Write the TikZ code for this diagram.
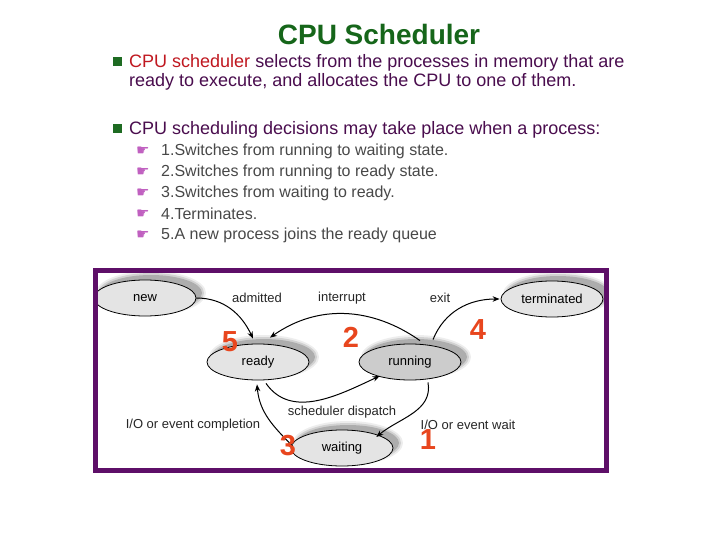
\documentclass[tikz,border=0pt]{standalone}
\usepackage{fontspec}
\setmainfont{Liberation Sans}
\newfontfamily\symfont{DejaVu Sans}
\usetikzlibrary{arrows.meta,shapes.geometric}
\definecolor{titlegreen}{HTML}{16661A}
\definecolor{bulgreen}{HTML}{1E6B22}
\definecolor{txtpurple}{HTML}{4A0D4E}
\definecolor{txtred}{HTML}{C01820}
\definecolor{subgray}{HTML}{484848}
\definecolor{handpink}{HTML}{C060C0}
\definecolor{framepurple}{HTML}{5E0F68}
\definecolor{numred}{HTML}{E8461E}
\definecolor{statefill}{HTML}{E4E4E4}
\definecolor{runfill}{HTML}{CCCCCC}
\tikzset{
  state/.style={ellipse, draw=black, line width=0.8pt, fill=statefill,
     minimum width=102pt, minimum height=36pt, inner sep=0pt,
     font=\fontsize{13}{15}\selectfont},
  shadowell/.style={ellipse, fill=black!55, minimum width=102pt, minimum height=36pt, inner sep=0pt},
  lbl/.style={font=\fontsize{13}{15}\selectfont, text=black!85},
  num/.style={font=\fontsize{29}{32}\selectfont\bfseries, text=numred},
  arr/.style={line width=1pt, -{Stealth[length=7pt,width=5.5pt]}},
  sub/.style={anchor=base west, font=\fontsize{16}{18}\selectfont, text=subgray, inner sep=0pt},
  hand/.style={anchor=base west, font=\symfont\fontsize{15}{16}\selectfont, text=handpink, inner sep=0pt},
  main/.style={anchor=base west, font=\fontsize{18}{20}\selectfont, text=txtpurple, inner sep=0pt},
  sq/.style={fill=bulgreen, minimum size=9pt, inner sep=0pt}
}
\begin{document}
\begin{tikzpicture}[x=1pt,y=-1pt]
\useasboundingbox[fill=white] (0,0) rectangle (720,540);
% title
\node[anchor=base, font=\fontsize{28}{32}\selectfont\bfseries, text=titlegreen] (title) at (379,45) {CPU Scheduler};
% bullet 1
\node[sq] (b1) at (117,62) {};
\node[main] (l1) at (129,68) {\textcolor{txtred}{CPU scheduler} selects from the processes in memory that are};
\node[main] (l2) at (129,87) {ready to execute, and allocates the CPU to one of them.};
% bullet 2
\node[sq] (b2) at (117,129) {};
\node[main] (l3) at (129,135) {CPU scheduling decisions may take place when a process:};
% sub bullets
\foreach \i/\t in {0/{1.Switches from running to waiting state.},1/{2.Switches from running to ready state.},2/{3.Switches from waiting to ready.},3/{4.Terminates.},4/{5.A new process joins the ready queue}}{
  \node[hand] (h\i) at (136,155.5+21*\i) {☛};
  \node[sub] (s\i) at (161,156+21*\i) {\t};
}
% diagram
\begin{scope}
\clip (98,273) rectangle (604,468);
\foreach \px/\py in {145/298,258/362,410/362,552/299,342/448}{
  \foreach \k/\o in {4/0.12,2/0.22,0/0.38}{
    \node[shadowell, opacity=\o, minimum width=102pt+\k*2pt, minimum height=36pt+\k*2pt] at (\px+6,\py-5) {};
  }
}
\node[state] (new) at (145,298) {new};
\node[state] (ready) at (258,362) {ready};
\node[state, fill=runfill] (running) at (410,362) {running};
\node[state] (term) at (552,299) {terminated};
\node[state] (waiting) at (342,448) {waiting};

\draw[arr] (new.east) to[out=0,in=115] ([xshift=-5pt,yshift=5pt]ready.north);
\draw[arr] ([xshift=10pt,yshift=3pt]running.north) to[out=145,in=35] ([xshift=12pt,yshift=6pt]ready.north);
\draw[arr] ([xshift=23pt,yshift=4pt]running.north) to[out=68,in=180] ([xshift=-1pt]term.west);
\draw[arr] ([xshift=8pt,yshift=-3pt]ready.south) to[out=-55,in=205] ([xshift=6pt,yshift=-1pt]running.south west);
\draw[arr] ([xshift=18pt,yshift=-2pt]running.south) to[out=-80,in=40] ([xshift=-2pt,yshift=-2pt]waiting.north east);
\draw[arr] ([xshift=2pt,yshift=2pt]waiting.west) to[out=135,in=-85] ([xshift=-1pt,yshift=-4pt]ready.south);

\node[lbl] (ladm) at (257,298) {admitted};
\node[lbl] (lint) at (342,298) {interrupt};
\node[lbl] (lexit) at (440,298) {exit};
\node[lbl] (lsch) at (342,412) {scheduler dispatch};
\node[lbl] (lcomp) at (193,425) {I/O or event completion};
\node[lbl] (lwait) at (468,425) {I/O or event wait};

\node[num] (n5) at (230,342) {5};
\node[num] (n2) at (351,337) {2};
\node[num] (n4) at (478,330) {4};
\node[num] (n3) at (288,446) {3};
\node[num] (n1) at (428,440) {1};
\end{scope}
\draw[framepurple, line width=5pt] (95.5,270.5) rectangle (606.5,470.5);
\end{tikzpicture}
\end{document}
